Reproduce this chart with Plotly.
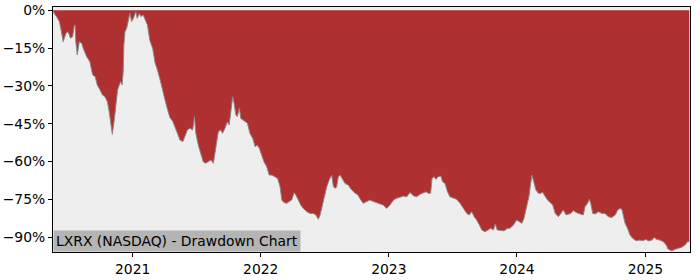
import plotly.graph_objects as go

dates = [
    "2020-05-19", "2020-05-22", "2020-05-29", "2020-06-06", "2020-06-10", "2020-06-17", "2020-06-25",
    "2020-07-01", "2020-07-08", "2020-07-14", "2020-07-18", "2020-07-21", "2020-07-23", "2020-07-27",
    "2020-08-02", "2020-08-09", "2020-08-13", "2020-08-23", "2020-09-01", "2020-09-09", "2020-09-16",
    "2020-09-22", "2020-09-30", "2020-10-07", "2020-10-14", "2020-10-21", "2020-10-26", "2020-10-31",
    "2020-11-04", "2020-11-09", "2020-11-14", "2020-11-19", "2020-11-24", "2020-11-28", "2020-12-02",
    "2020-12-05", "2020-12-07", "2020-12-10", "2020-12-15", "2020-12-20", "2020-12-24", "2020-12-29",
    "2021-01-03", "2021-01-10", "2021-01-14", "2021-01-20", "2021-01-24", "2021-01-31", "2021-02-05",
    "2021-02-12", "2021-02-19", "2021-02-27", "2021-03-06", "2021-03-12", "2021-03-20", "2021-03-28",
    "2021-04-03", "2021-04-10", "2021-04-17", "2021-04-25", "2021-05-02", "2021-05-08", "2021-05-16",
    "2021-05-24", "2021-05-30", "2021-06-06", "2021-06-13", "2021-06-21", "2021-06-26", "2021-06-30",
    "2021-07-07", "2021-07-14", "2021-07-21", "2021-07-28", "2021-08-04", "2021-08-12", "2021-08-19",
    "2021-08-24", "2021-08-28", "2021-09-02", "2021-09-09", "2021-09-14", "2021-09-21", "2021-09-28",
    "2021-10-03", "2021-10-08", "2021-10-13", "2021-10-17", "2021-10-22", "2021-10-26", "2021-11-01",
    "2021-11-05", "2021-11-10", "2021-11-17", "2021-11-24", "2021-12-01", "2021-12-09", "2021-12-16",
    "2021-12-22", "2021-12-28", "2022-01-04", "2022-01-10", "2022-01-18", "2022-01-25", "2022-02-02",
    "2022-02-11", "2022-02-18", "2022-02-25", "2022-03-02", "2022-03-08", "2022-03-16", "2022-03-23",
    "2022-03-30", "2022-04-06", "2022-04-11", "2022-04-18", "2022-04-25", "2022-05-02", "2022-05-12",
    "2022-05-21", "2022-05-31", "2022-06-07", "2022-06-14", "2022-06-19", "2022-06-24", "2022-06-30",
    "2022-07-08", "2022-07-15", "2022-07-22", "2022-07-27", "2022-08-01", "2022-08-05", "2022-08-10",
    "2022-08-15", "2022-08-22", "2022-08-29", "2022-09-07", "2022-09-17", "2022-09-27", "2022-10-05",
    "2022-10-13", "2022-10-20", "2022-10-30", "2022-11-08", "2022-11-18", "2022-11-27", "2022-12-07",
    "2022-12-16", "2022-12-26", "2023-01-04", "2023-01-14", "2023-01-23", "2023-02-02", "2023-02-11",
    "2023-02-21", "2023-03-02", "2023-03-12", "2023-03-21", "2023-03-31", "2023-04-09", "2023-04-17",
    "2023-04-23", "2023-04-30", "2023-05-04", "2023-05-10", "2023-05-15", "2023-05-22", "2023-05-29",
    "2023-06-03", "2023-06-10", "2023-06-17", "2023-06-24", "2023-07-04", "2023-07-13", "2023-07-23",
    "2023-08-01", "2023-08-11", "2023-08-18", "2023-08-25", "2023-09-01", "2023-09-08", "2023-09-16",
    "2023-09-23", "2023-10-02", "2023-10-11", "2023-10-18", "2023-10-26", "2023-10-31", "2023-11-06",
    "2023-11-16", "2023-11-25", "2023-12-05", "2023-12-12", "2023-12-22", "2023-12-31", "2024-01-08",
    "2024-01-15", "2024-01-21", "2024-01-29", "2024-02-04", "2024-02-09", "2024-02-13", "2024-02-19",
    "2024-02-24", "2024-03-02", "2024-03-09", "2024-03-14", "2024-03-21", "2024-03-28", "2024-04-04",
    "2024-04-12", "2024-04-19", "2024-04-28", "2024-05-05", "2024-05-12", "2024-05-20", "2024-05-26",
    "2024-06-02", "2024-06-10", "2024-06-19", "2024-06-29", "2024-07-08", "2024-07-13", "2024-07-20",
    "2024-07-25", "2024-07-29", "2024-08-04", "2024-08-11", "2024-08-20", "2024-08-30", "2024-09-08",
    "2024-09-17", "2024-09-27", "2024-10-07", "2024-10-14", "2024-10-21", "2024-10-26", "2024-10-30",
    "2024-11-04", "2024-11-11", "2024-11-18", "2024-11-26", "2024-12-05", "2024-12-15", "2024-12-24",
    "2025-01-03", "2025-01-09", "2025-01-19", "2025-01-26", "2025-02-02", "2025-02-12", "2025-02-21",
    "2025-03-01", "2025-03-07", "2025-03-17", "2025-03-27", "2025-04-05", "2025-04-15", "2025-04-24",
    "2025-05-01", "2025-05-06",
]

drawdown = [
    0.0, -1.2, -2.5, -4.5, -7.1, -12.5, -9.1,
    -8.5, -11.1, -10.5, -6.5, -5.8, -12.5, -17.7,
    -12.5, -13.1, -15.1, -18.4, -20.4, -25.7, -26.3,
    -29.6, -31.6, -33.6, -34.3, -36.3, -40.2, -44.9,
    -49.2, -44.2, -37.6, -31.6, -29.6, -28.3, -29.6,
    -24.4, -13.8, -8.5, -7.1, -3.2, -1.2, -4.5,
    -3.2, -0.6, -3.2, -1.2, -2.5, -1.9, -3.8,
    -5.8, -12.0, -15.1, -21.0, -23.4, -27.5, -32.6,
    -35.5, -39.2, -42.5, -44.0, -46.8, -49.0, -51.5,
    -52.1, -50.2, -47.5, -46.8, -47.5, -42.2, -48.8,
    -53.5, -56.7, -60.1, -60.7, -60.1, -59.4, -60.7,
    -56.1, -50.8, -48.2, -47.5, -48.8, -46.8, -44.2,
    -45.5, -40.2, -34.3, -36.9, -41.5, -42.2, -38.9,
    -42.9, -43.5, -44.2, -44.8, -48.8, -50.8, -54.1,
    -53.5, -54.8, -57.4, -60.1, -62.1, -65.4, -65.4,
    -66.0, -66.7, -70.0, -75.3, -76.3, -76.6, -75.9,
    -75.3, -72.4, -73.3, -75.3, -77.3, -78.6, -79.9,
    -80.6, -80.6, -81.2, -82.9, -81.2, -77.9, -74.0,
    -70.0, -67.3, -65.4, -70.0, -70.6, -70.2, -66.0,
    -65.4, -67.3, -68.7, -69.3, -71.3, -72.6, -73.3,
    -75.3, -76.6, -75.9, -75.3, -75.9, -76.3, -76.6,
    -77.3, -78.6, -77.3, -75.3, -74.6, -74.2, -73.7,
    -74.0, -72.3, -73.6, -74.0, -73.0, -72.6, -72.0,
    -72.6, -72.6, -66.7, -66.0, -67.1, -66.0, -65.8,
    -68.0, -68.7, -72.0, -74.0, -74.6, -75.0, -76.6,
    -78.6, -80.6, -81.2, -79.9, -81.9, -83.2, -85.2,
    -87.2, -87.9, -87.2, -86.5, -87.2, -84.8, -87.2,
    -87.5, -87.5, -86.5, -86.5, -85.2, -83.2, -83.9,
    -84.5, -82.5, -77.9, -74.0, -68.7, -65.4, -68.7,
    -71.3, -72.6, -72.6, -72.2, -74.0, -75.3, -76.2,
    -77.3, -80.6, -81.9, -80.6, -79.2, -81.2, -80.8,
    -80.6, -79.5, -80.3, -80.8, -81.2, -77.9, -76.6,
    -75.0, -76.6, -80.6, -80.8, -79.9, -80.6, -80.6,
    -81.9, -82.2, -81.2, -79.2, -78.6, -79.0, -81.9,
    -84.5, -86.5, -89.2, -90.5, -91.4, -91.2, -91.4,
    -90.9, -91.5, -91.2, -90.1, -90.9, -91.2, -91.8,
    -93.1, -94.8, -95.4, -94.8, -94.4, -94.0, -93.1,
    -91.8, -91.8,
]

y_ticks = [0, -15, -30, -45, -60, -75, -90]
y_tick_labels = ["0%", "\u221215%", "\u221230%", "\u221245%", "\u221260%", "\u221275%", "\u221290%"]
x_ticks = ["2021-01-01", "2022-01-01", "2023-01-01", "2024-01-01", "2025-01-01"]
x_tick_labels = ["2021", "2022", "2023", "2024", "2025"]
title_text = "LXRX (NASDAQ) - Drawdown Chart"

fig = go.Figure()
fig.add_trace(go.Scatter(
    x=dates, y=drawdown, mode="lines", fill="tozeroy",
    fillcolor="#AF3031", line=dict(color="#8A8A8A", width=1),
    hoverinfo="skip", showlegend=False,
))

fig.update_layout(
    width=700, height=280,
    margin=dict(l=53, r=10, t=7, b=28),
    paper_bgcolor="white", plot_bgcolor="#EEEEEE",
    font=dict(family="DejaVu Sans", size=13.9, color="black"),
    xaxis=dict(
        range=["2020-05-19", "2025-05-08"], tickvals=x_ticks, ticktext=x_tick_labels,
        showgrid=False, zeroline=False, showline=True, linecolor="black", linewidth=1,
        mirror=True, ticks="outside", ticklen=4, tickcolor="black", automargin=False,
    ),
    yaxis=dict(
        range=[-95.9, 1.3], tickvals=y_ticks, ticktext=y_tick_labels,
        showgrid=False, zeroline=False, showline=True, linecolor="black", linewidth=1,
        mirror=True, ticks="outside", ticklen=4, tickcolor="black", automargin=False,
    ),
    annotations=[dict(
        text=title_text, xref="paper", yref="paper", x=0, y=0,
        xanchor="left", yanchor="bottom", showarrow=False,
        bgcolor="#B4B4B4", font=dict(size=13.9, color="black"), borderpad=2,
    )],
)

fig.write_html("out.html")
